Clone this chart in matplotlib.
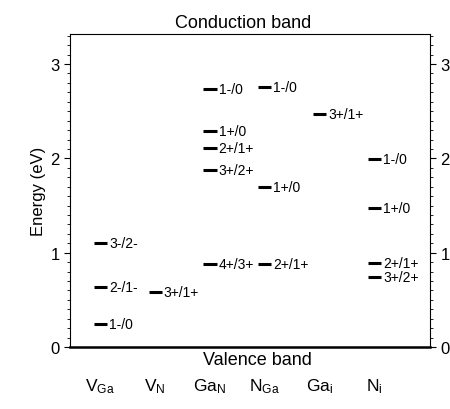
import matplotlib
matplotlib.use('Agg')
from matplotlib import pyplot as plt
from matplotlib.ticker import MultipleLocator

plt.rcParams['font.family'] = ['Liberation Sans', 'DejaVu Sans']
plt.rcParams['mathtext.default'] = 'regular'

# defect types along the x axis
categories = [r'$V_{Ga}$', r'$V_{N}$', r'$Ga_{N}$', r'$N_{Ga}$', r'$Ga_{i}$', r'$N_{i}$']

# transition levels: which defect, energy above VBM (eV), label
level_defect = [0, 0, 0, 1, 2, 2, 2, 2, 2, 3, 3, 3, 4, 5, 5, 5, 5]
level_energy = [1.10, 0.64, 0.25, 0.58, 2.74, 2.29, 2.11, 1.88, 0.88,
                2.76, 1.70, 0.88, 2.47, 1.99, 1.47, 0.89, 0.74]
level_label = ['3-/2-', '2-/1-', '1-/0', '3+/1+', '1-/0', '1+/0', '2+/1+', '3+/2+', '4+/3+',
               '1-/0', '1+/0', '2+/1+', '3+/1+', '1-/0', '1+/0', '2+/1+', '3+/2+']

fig = plt.figure(figsize=(4.5, 4.1), dpi=100)
ax = fig.add_axes([0.156, 0.151, 0.80, 0.764])

half = 0.12
xs = [float(d) for d in level_defect]
ax.hlines(level_energy, [x - half for x in xs], [x + half for x in xs], colors='black', lw=2.2)
for x, e, lab in zip(xs, level_energy, level_label):
    ax.text(x + half + 0.04, e, lab, va='center', ha='left', fontsize=10)

ax.set_xlim(-0.55, 6.02)
ax.set_ylim(0, 3.32)
ax.set_xticks(range(len(categories)))
ax.set_xticklabels(categories, fontsize=12.5)
ax.tick_params(axis='x', length=0, pad=21)

ax.yaxis.set_major_locator(MultipleLocator(1))
ax.yaxis.set_minor_locator(MultipleLocator(0.1))
ax.tick_params(axis='y', which='both', direction='out', left=True, right=True,
               labelleft=True, labelright=True, labelsize=12)
ax.tick_params(axis='y', which='major', length=4, width=0.8)
ax.tick_params(axis='y', which='minor', length=2.5, width=0.6)
ax.spines['bottom'].set_linewidth(1.8)

ax.set_ylabel('Energy (eV)', fontsize=12, labelpad=3)
ax.text(0.48, 1.01, 'Conduction band', transform=ax.transAxes, ha='center', va='bottom', fontsize=13)
ax.text(0.52, -0.012, 'Valence band', transform=ax.transAxes, ha='center', va='top', fontsize=13)

plt.savefig('out.png', dpi=100)
